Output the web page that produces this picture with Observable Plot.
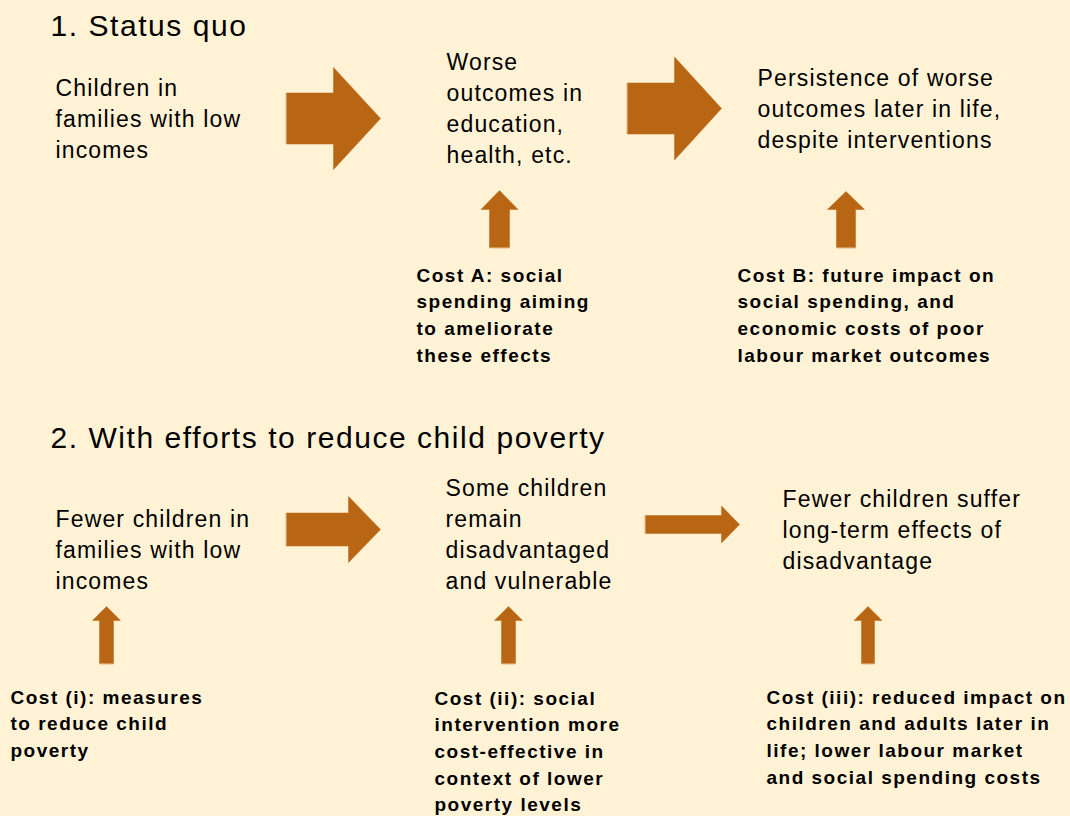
<!DOCTYPE html>
<html>
<head>
<meta charset="utf-8">
<script src="https://cdn.jsdelivr.net/npm/d3@7"></script>
<script src="https://cdn.jsdelivr.net/npm/@observablehq/plot@0.6"></script>
<style>
  html, body { margin: 0; padding: 0; background: #FFF2D5; }
  #chart svg { display: block; }
  .hd text { letter-spacing: 1.55px; }
  .bx text { letter-spacing: 1.15px; }
  .cs text { letter-spacing: 1.5px; }
</style>
</head>
<body>
<div id="chart"></div>
<script>
// ---- Text content ----
const headings = [
  { id: "h1", text: "1. Status quo", x: 50, y: 26 },
  { id: "h2", text: "2. With efforts to reduce child poverty", x: 50, y: 438 }
];
const boxLabels = [
  { id: "a1", x: 55,  y: 88,  lines: ["Children in", "families with low", "incomes"] },
  { id: "a2", x: 446, y: 62,  lines: ["Worse", "outcomes in", "education,", "health, etc."] },
  { id: "a3", x: 757, y: 78,  lines: ["Persistence of worse", "outcomes later in life,", "despite interventions"] },
  { id: "b1", x: 55,  y: 519, lines: ["Fewer children in", "families with low", "incomes"] },
  { id: "b2", x: 445, y: 488, lines: ["Some children", "remain", "disadvantaged", "and vulnerable"] },
  { id: "b3", x: 782, y: 499, lines: ["Fewer children suffer", "long-term effects of", "disadvantage"] }
];
const costLabels = [
  { id: "cA",   x: 416, y: 275, lines: ["Cost A: social", "spending aiming", "to ameliorate", "these effects"] },
  { id: "cB",   x: 737, y: 275, lines: ["Cost B: future impact on", "social spending, and", "economic costs of poor", "labour market outcomes"] },
  { id: "ci",   x: 10,  y: 697, lines: ["Cost (i): measures", "to reduce child", "poverty"] },
  { id: "cii",  x: 434, y: 698, lines: ["Cost (ii): social", "intervention more", "cost-effective in", "context of lower", "poverty levels"] },
  { id: "ciii", x: 766, y: 697, lines: ["Cost (iii): reduced impact on", "children and adults later in", "life; lower labour market", "and social spending costs"] }
];
// ---- Arrows: tail, tip, centre line, shaft half-width, head half-width, head length ----
const rightArrows = [
  { id: "r1", tail: 286, tip: 380, c: 118, shaft: 25.5, head: 51, headLen: 47 },
  { id: "r2", tail: 627, tip: 721, c: 108, shaft: 25.5, head: 51.5, headLen: 47 },
  { id: "r3", tail: 286, tip: 380, c: 529, shaft: 16.5, head: 33, headLen: 32 },
  { id: "r4", tail: 645, tip: 739, c: 524, shaft: 9, head: 18.5, headLen: 18 }
];
const upArrows = [
  { id: "u1", tail: 247, tip: 190, c: 499,   shaft: 10,  head: 18.5, headLen: 19 },
  { id: "u2", tail: 247, tip: 191, c: 845.5, shaft: 9.5, head: 18.5, headLen: 18 },
  { id: "u3", tail: 663, tip: 606, c: 106,   shaft: 7,   head: 14,   headLen: 14 },
  { id: "u4", tail: 663, tip: 606, c: 508,   shaft: 7,   head: 14,   headLen: 14 },
  { id: "u5", tail: 663, tip: 606, c: 867.5, shaft: 6.5, head: 14,   headLen: 14 }
];

const BG = "#FFF2D5";
const ARROW = "#B96614";
const FONT = "'Liberation Sans', Arial, Helvetica, sans-serif";

// Build arrow polygons
const poly = [];
for (const a of rightArrows) {
  const hb = a.tip - a.headLen;
  const pts = [
    [a.tail, a.c - a.shaft], [hb, a.c - a.shaft], [hb, a.c - a.head], [a.tip, a.c],
    [hb, a.c + a.head], [hb, a.c + a.shaft], [a.tail, a.c + a.shaft]
  ];
  pts.forEach(([x, y], i) => poly.push({ id: a.id, i, x, y }));
}
for (const a of upArrows) {
  const hb = a.tip + a.headLen;
  const pts = [
    [a.c - a.shaft, a.tail], [a.c - a.shaft, hb], [a.c - a.head, hb], [a.c, a.tip],
    [a.c + a.head, hb], [a.c + a.shaft, hb], [a.c + a.shaft, a.tail]
  ];
  pts.forEach(([x, y], i) => poly.push({ id: a.id, i, x, y }));
}

function explode(blocks, lh) {
  const rows = [];
  for (const b of blocks) b.lines.forEach((t, i) => rows.push({ id: b.id, text: t, x: b.x, y: b.y + i * lh }));
  return rows;
}
const boxRows = explode(boxLabels, 31);
const costRows = explode(costLabels, 26.7);

const chart = Plot.plot({
  width: 1070,
  height: 816,
  margin: 0,
  style: { background: BG, fontFamily: FONT },
  x: { domain: [0, 1070], range: [0, 1070], axis: null },
  y: { domain: [0, 816], range: [0, 816], axis: null },
  marks: [
    Plot.line(poly, { x: "x", y: "y", z: "id", fill: ARROW, stroke: ARROW, strokeWidth: 0.5, curve: "linear-closed" }),
    Plot.text(headings, { x: "x", y: "y", text: "text", textAnchor: "start", lineAnchor: "middle", fontSize: 30, fill: "#000", className: "hd" }),
    Plot.text(boxRows, { x: "x", y: "y", text: "text", textAnchor: "start", lineAnchor: "middle", fontSize: 23, fill: "#000", className: "bx" }),
    Plot.text(costRows, { x: "x", y: "y", text: "text", textAnchor: "start", lineAnchor: "middle", fontSize: 19, fontWeight: "bold", fill: "#000", className: "cs" })
  ]
});
document.getElementById("chart").appendChild(chart);
</script>
</body>
</html>
